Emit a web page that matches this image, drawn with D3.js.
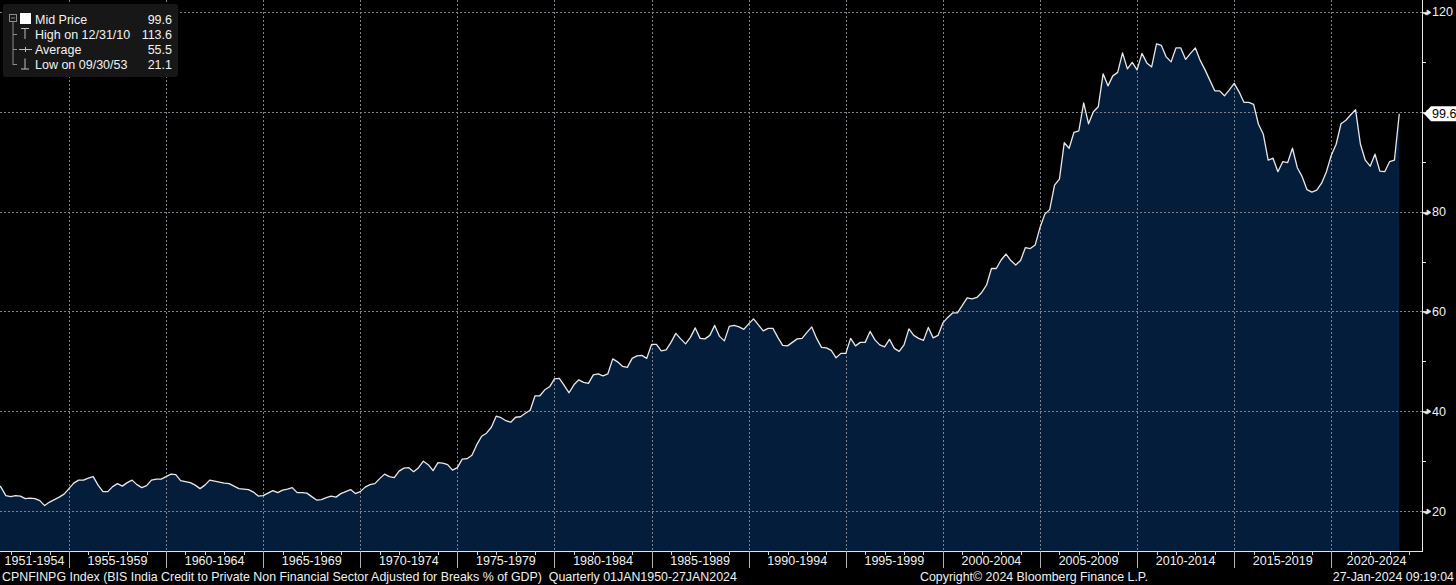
<!DOCTYPE html>
<html>
<head>
<meta charset="utf-8">
<script src="https://cdn.jsdelivr.net/npm/d3@7"></script>
<style>
  html, body { margin: 0; padding: 0; background: #000; overflow: hidden; }
  svg { display: block; font-family: "Liberation Sans", Arial, sans-serif; }
</style>
</head>
<body>
<div id="vis"></div>
<script>
const WIDTH = 1456;
const HEIGHT = 585;
const PLOT = {left: 0, right: 1422, top: 0, bottom: 551};

// quarterly values, first one is 1951 Q1 (quarter end dates)
const FIRST_YEAR = 1951;
const q1950s = [25.5, 24.8, 23.1, 22.9,  23.1, 23.0, 22.5, 22.6,  22.5, 22.1, 21.1, 21.8,
                22.3, 22.8, 23.4, 24.5,  25.6, 26.2, 26.2, 26.6,  26.9, 25.2, 23.9, 23.9,
                24.9, 25.5, 25.0, 25.7,  26.2, 25.3, 24.7, 25.1,  26.2, 26.4, 26.4, 26.9];
const q1960s = [27.4, 27.3, 26.1, 25.9,  25.7, 25.2, 24.5, 25.2,  26.2, 26.0, 25.8, 25.6,
                25.5, 25.0, 24.5, 24.4,  24.3, 23.8, 23.0, 23.1,  23.6, 24.1, 23.7, 24.2,
                24.4, 24.7, 23.7, 23.7,  23.6, 22.9, 22.2, 22.3,  22.7, 23.0, 22.8, 23.5,
                23.9, 24.3, 23.5, 23.9];
const q1970s = [24.8, 25.3, 25.5, 26.5,  27.4, 26.9, 26.7, 28.0,  28.6, 28.7, 27.9, 28.7,
                30.0, 29.3, 28.1, 29.7,  29.6, 29.3, 28.2, 28.7,  30.4, 30.5, 31.2, 33.3,
                35.0, 35.6, 36.8, 39.0,  38.7, 38.1, 37.8, 38.8,  38.9, 39.6, 40.2, 43.1,
                43.1, 44.3, 44.9, 46.5];
const q1980s = [46.6, 45.2, 43.7, 45.3,  46.3, 45.8, 45.6, 47.3,  47.5, 47.1, 47.5, 50.5,
                49.9, 49.0, 48.8, 50.6,  51.1, 51.2, 50.6, 53.4,  53.4, 52.1, 52.3, 53.8,
                55.6, 54.5, 53.5, 54.8,  56.7, 54.6, 54.5, 55.2,  57.2, 55.0, 54.1, 57.0,
                57.2, 56.9, 56.4, 57.5];
const q1990s = [58.5, 57.3, 56.1, 56.6,  56.6, 54.8, 53.2, 53.1,  53.8, 54.5, 54.6, 55.8,
                56.9, 54.6, 52.8, 52.7,  52.2, 50.7, 51.6, 51.6,  54.6, 53.1, 53.8, 53.8,
                56.0, 54.3, 53.3, 52.9,  54.4, 52.6, 52.0, 53.3,  56.5, 55.2, 54.6, 54.2,
                56.8, 54.7, 55.2, 57.7];
const q2000s = [58.8, 59.7, 59.7, 61.2,  62.7, 62.5, 62.8, 63.8,  65.3, 68.6, 68.6, 70.3,
                71.5, 70.2, 69.3, 70.2,  72.8, 72.6, 73.3, 76.8,  79.5, 80.4, 85.3, 86.5,
                93.8, 92.7, 95.9, 96.2,  101.8, 97.6, 100.0, 101.0,  107.6, 105.2, 107.2, 107.9,
                111.8, 108.6, 109.9, 108.4];
const q2010s = [111.7, 109.8, 109.0, 113.6,  113.3, 111.0, 110.0, 112.8,  112.8, 110.5, 111.7, 112.8,
                110.3, 108.4, 106.3, 104.2,  104.2, 103.2, 104.4, 105.7,  104.0, 101.9, 101.9, 101.5,
                97.5, 95.5, 90.3, 90.7,  88.0, 90.0, 89.8, 92.7,  88.8, 87.0, 84.4, 83.9,
                84.3, 85.7, 88.0, 91.3];
const q2020s = [93.5, 97.6, 98.3, 99.4,  100.4, 93.5, 90.3, 89.1,  91.5, 88.1, 88.0, 90.0,
                90.3, 99.6];

const yGridTicks = [20, 40, 60, 80, 100, 120];
const yMinorTicks = [30, 50, 70, 90, 110];
const periodStarts = [1950, 1955, 1960, 1965, 1970, 1975, 1980, 1985, 1990, 1995, 2000, 2005, 2010, 2015, 2020];
const periodLabels = ["1951-1954", "1955-1959", "1960-1964", "1965-1969", "1970-1974", "1975-1979",
                      "1980-1984", "1985-1989", "1990-1994", "1995-1999", "2000-2004", "2005-2009",
                      "2010-2014", "2015-2019", "2020-2024"];

const legendLabels = ["Mid Price", "High on 12/31/10", "Average", "Low on 09/30/53"];
const legendValues = ["99.6", "113.6", "55.5", "21.1"];

const footerLeft = "CPNFINPG Index (BIS India Credit to Private Non Financial Sector Adjusted for Breaks % of GDP)  Quarterly 01JAN1950-27JAN2024";
const footerMid = "Copyright\u00A9 2024 Bloomberg Finance L.P.";
const footerRight = "27-Jan-2024 09:19:04";

const values = [].concat(q1950s, q1960s, q1970s, q1980s, q1990s, q2000s, q2010s, q2020s);
const data = values.map((v, i) => ({t: FIRST_YEAR + (i + 1) * 0.25, v: v}));
const last = data[data.length - 1];

const X_SCALE = d3.scaleLinear().domain([1951.45, 2024.67]).range([PLOT.left, PLOT.right]);
const Y_SCALE = d3.scaleLinear().domain([12, 122.4]).range([PLOT.bottom, PLOT.top]);

const FRAME = d3.select("#vis")
  .append("svg")
    .attr("width", WIDTH)
    .attr("height", HEIGHT);

FRAME.append("rect").attr("width", WIDTH).attr("height", HEIGHT).attr("fill", "#000");

FRAME.append("clipPath").attr("id", "plotclip")
  .append("rect")
    .attr("x", PLOT.left).attr("y", PLOT.top)
    .attr("width", PLOT.right - PLOT.left).attr("height", PLOT.bottom - PLOT.top);

const plot = FRAME.append("g").attr("clip-path", "url(#plotclip)");

// filled area under the series
plot.append("path")
  .datum(data)
  .attr("fill", "#041d3b")
  .attr("d", d3.area()
      .x(d => X_SCALE(d.t))
      .y0(PLOT.bottom)
      .y1(d => Y_SCALE(d.v)));

// dotted grid
plot.selectAll(".hgrid")
  .data(yGridTicks)
  .enter()
  .append("line")
    .attr("x1", PLOT.left).attr("x2", PLOT.right)
    .attr("y1", d => Math.round(Y_SCALE(d)) + 0.5)
    .attr("y2", d => Math.round(Y_SCALE(d)) + 0.5)
    .attr("stroke", "#7e838a")
    .attr("stroke-width", 1)
    .attr("stroke-dasharray", "2,2");

plot.selectAll(".vgrid")
  .data(periodStarts.slice(1))
  .enter()
  .append("line")
    .attr("x1", d => Math.round(X_SCALE(d)) + 0.5)
    .attr("x2", d => Math.round(X_SCALE(d)) + 0.5)
    .attr("y1", PLOT.top).attr("y2", PLOT.bottom)
    .attr("stroke", "#7e838a")
    .attr("stroke-width", 1)
    .attr("stroke-dasharray", "2,2");

// the series line
plot.append("path")
  .datum(data)
  .attr("fill", "none")
  .attr("stroke", "#e8e8e8")
  .attr("stroke-width", 1.3)
  .attr("stroke-linejoin", "round")
  .attr("d", d3.line()
      .x(d => X_SCALE(d.t))
      .y(d => Y_SCALE(d.v)));

// axis frame lines
FRAME.append("line")
  .attr("x1", PLOT.right + 0.5).attr("x2", PLOT.right + 0.5)
  .attr("y1", 0).attr("y2", PLOT.bottom + 1)
  .attr("stroke", "#e6e6e6");
FRAME.append("line")
  .attr("x1", 0).attr("x2", PLOT.right + 1)
  .attr("y1", PLOT.bottom + 0.5).attr("y2", PLOT.bottom + 0.5)
  .attr("stroke", "#e6e6e6");

// right axis: arrow ticks, minor ticks, labels
const yAxis = FRAME.append("g");
yAxis.selectAll(".major")
  .data(yGridTicks)
  .enter()
  .append("path")
    .attr("d", d => {
      const yy = Math.round(Y_SCALE(d)) + 0.5;
      return "M" + PLOT.right + "," + yy + "H" + (PLOT.right + 5) +
             "L" + (PLOT.right + 5) + "," + (yy - 2.5) + "L" + (PLOT.right + 9) + "," + yy +
             "L" + (PLOT.right + 5) + "," + (yy + 2.5) + "Z";
    })
    .attr("fill", "#e6e6e6")
    .attr("stroke", "#e6e6e6")
    .attr("stroke-width", 0.8);

yAxis.selectAll(".minor")
  .data(yMinorTicks)
  .enter()
  .append("line")
    .attr("x1", PLOT.right).attr("x2", PLOT.right + 4)
    .attr("y1", d => Math.round(Y_SCALE(d)) + 0.5)
    .attr("y2", d => Math.round(Y_SCALE(d)) + 0.5)
    .attr("stroke", "#e6e6e6");

yAxis.selectAll(".lbl")
  .data(yGridTicks.filter(d => Math.abs(Y_SCALE(d) - Y_SCALE(last.v)) > 12))
  .enter()
  .append("text")
    .attr("x", PLOT.right + 10)
    .attr("y", d => Y_SCALE(d) + 4.5)
    .attr("fill", "#f0f0f0")
    .attr("font-size", "12.5px")
    .text(d => d);

// last value tag
const tagY = Y_SCALE(last.v);
FRAME.append("path")
  .attr("d", "M" + (PLOT.right + 2) + "," + tagY +
             "L" + (PLOT.right + 9) + "," + (tagY - 7.5) +
             "H" + WIDTH + "V" + (tagY + 7.5) +
             "H" + (PLOT.right + 9) + "Z")
  .attr("fill", "#ffffff");
FRAME.append("text")
  .attr("x", PLOT.right + 10)
  .attr("y", tagY + 4.5)
  .attr("fill", "#000")
  .attr("font-size", "12.5px")
  .text(last.v.toFixed(1));

// bottom axis: yearly ticks, period separators, period labels
const xAxis = FRAME.append("g");
xAxis.selectAll(".yr")
  .data(d3.range(1952, 2025))
  .enter()
  .append("line")
    .attr("x1", d => Math.round(X_SCALE(d)) + 0.5)
    .attr("x2", d => Math.round(X_SCALE(d)) + 0.5)
    .attr("y1", PLOT.bottom).attr("y2", PLOT.bottom + 4)
    .attr("stroke", "#d0d0d0");

xAxis.selectAll(".sep")
  .data(periodStarts.slice(1))
  .enter()
  .append("line")
    .attr("x1", d => Math.round(X_SCALE(d)) + 0.5)
    .attr("x2", d => Math.round(X_SCALE(d)) + 0.5)
    .attr("y1", PLOT.bottom).attr("y2", PLOT.bottom + 17)
    .attr("stroke", "#b0b0b0");

const [d0, d1] = X_SCALE.domain();
xAxis.selectAll(".plbl")
  .data(periodStarts)
  .enter()
  .append("text")
    .attr("x", d => X_SCALE((Math.max(d, d0) + Math.min(d + 5, d1)) / 2))
    .attr("y", PLOT.bottom + 14)
    .attr("text-anchor", "middle")
    .attr("fill", "#f0f0f0")
    .attr("font-size", "12.5px")
    .text((d, i) => periodLabels[i]);

// footer
FRAME.append("text").attr("x", 2).attr("y", 581)
  .attr("fill", "#f0f0f0").attr("font-size", "12.4px").attr("xml:space", "preserve")
  .text(footerLeft);
FRAME.append("text").attr("x", 920).attr("y", 581)
  .attr("fill", "#f0f0f0").attr("font-size", "12.4px")
  .text(footerMid);
FRAME.append("text").attr("x", WIDTH - 2).attr("y", 581)
  .attr("text-anchor", "end")
  .attr("fill", "#f0f0f0").attr("font-size", "12.4px")
  .text(footerRight);

// legend box, top left
const legend = FRAME.append("g");
legend.append("rect")
  .attr("x", 3).attr("y", 4).attr("width", 175).attr("height", 73).attr("rx", 3)
  .attr("fill", "#171717");

const rowY = [19, 34, 49, 64];
const treeColor = "#8c8c8c";
legend.append("rect")
  .attr("x", 9.5).attr("y", 14.5).attr("width", 7).attr("height", 7)
  .attr("fill", "none").attr("stroke", treeColor);
legend.append("line")
  .attr("x1", 11).attr("x2", 15).attr("y1", 18).attr("y2", 18).attr("stroke", treeColor);
legend.append("line")
  .attr("x1", 13).attr("x2", 13).attr("y1", 22).attr("y2", rowY[3] + 1)
  .attr("stroke", treeColor);
legend.selectAll(".branch")
  .data(rowY.slice(1))
  .enter()
  .append("line")
    .attr("x1", 13).attr("x2", 17)
    .attr("y1", d => d + 0.5).attr("y2", d => d + 0.5)
    .attr("stroke", treeColor);

// icons
legend.append("rect").attr("x", 20).attr("y", 13).attr("width", 11).attr("height", 11).attr("fill", "#fff");
legend.append("path")
  .attr("d", "M21," + (rowY[1] - 5.5) + "H29M25," + (rowY[1] - 5.5) + "V" + (rowY[1] + 5))
  .attr("stroke", "#bdbdbd").attr("fill", "none");
legend.append("path")
  .attr("d", "M19," + (rowY[2] + 0.5) + "H32M25.5," + (rowY[2] - 2) + "V" + (rowY[2] + 3))
  .attr("stroke", "#bdbdbd").attr("fill", "none");
legend.append("path")
  .attr("d", "M25," + (rowY[3] - 5.5) + "V" + (rowY[3] + 5) + "M21," + (rowY[3] + 5) + "H29")
  .attr("stroke", "#bdbdbd").attr("fill", "none");

legend.selectAll(".llbl")
  .data(legendLabels)
  .enter()
  .append("text")
    .attr("x", 35)
    .attr("y", (d, i) => rowY[i] + 4.5)
    .attr("fill", "#f2f2f2")
    .attr("font-size", "12.5px")
    .text(d => d);

legend.selectAll(".lval")
  .data(legendValues)
  .enter()
  .append("text")
    .attr("x", 172)
    .attr("y", (d, i) => rowY[i] + 4.5)
    .attr("text-anchor", "end")
    .attr("fill", "#f2f2f2")
    .attr("font-size", "12.5px")
    .text(d => d);
</script>
</body>
</html>
